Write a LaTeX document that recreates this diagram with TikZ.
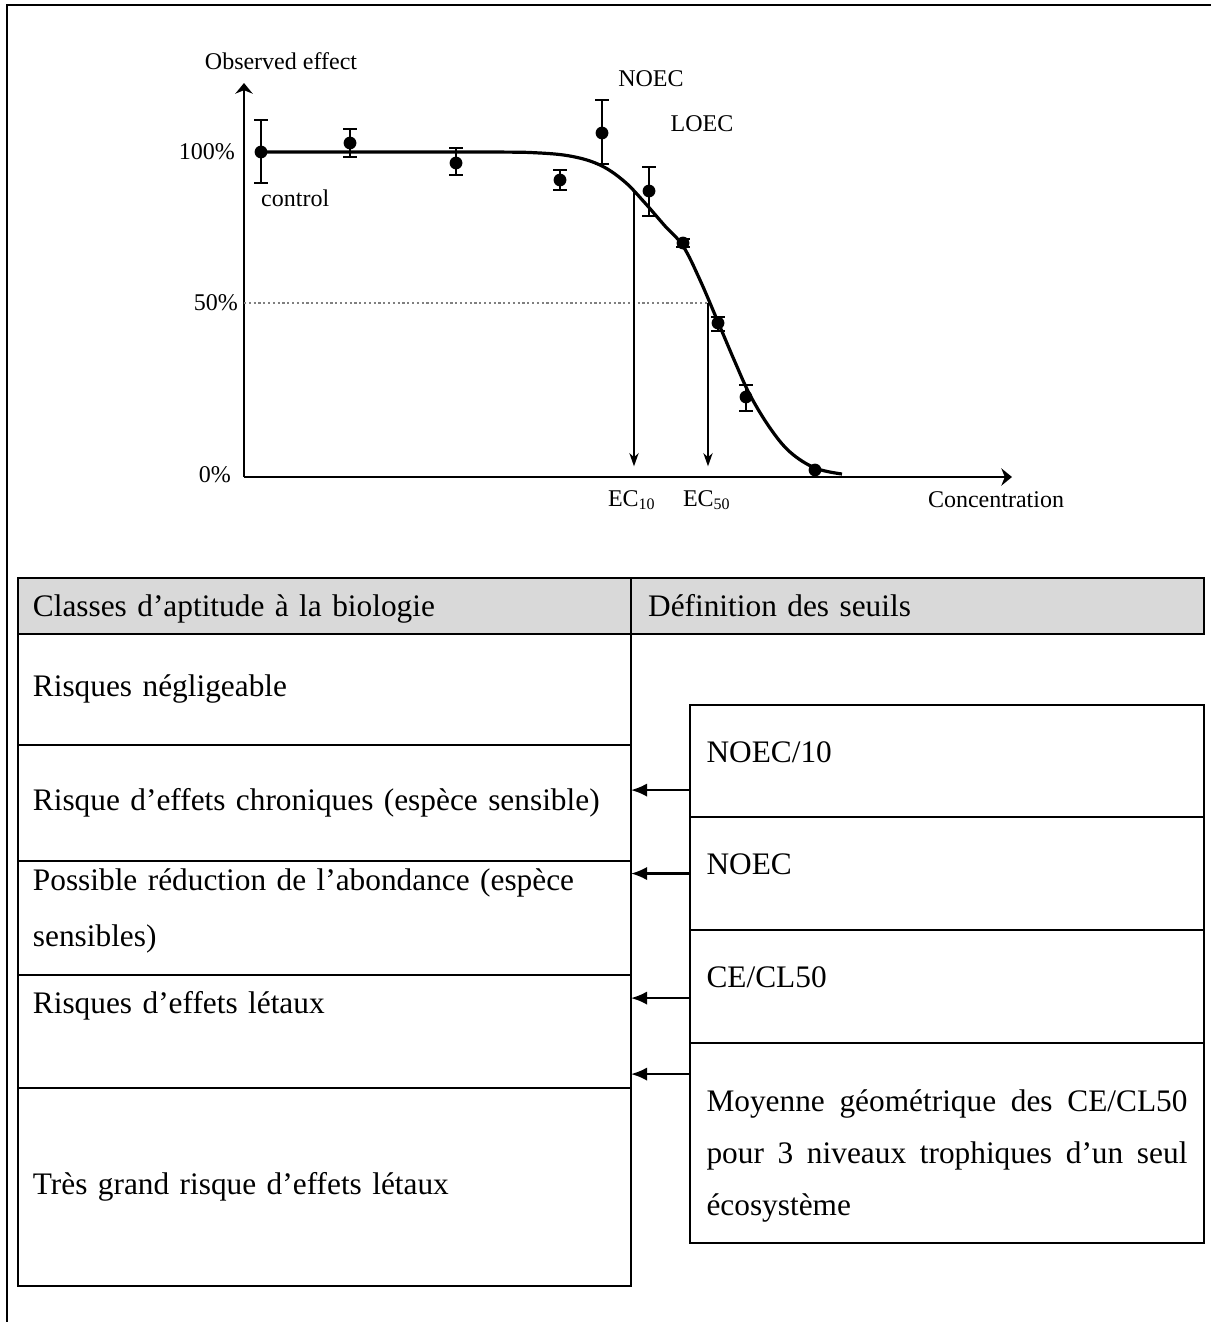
\documentclass[tikz,border=0pt]{standalone}
\usepackage{fontspec}
\setmainfont{Liberation Serif}
\usetikzlibrary{arrows.meta,positioning}

\begin{document}
\begin{tikzpicture}[x=0.375pt, y=-0.375pt,
    lab/.style = {font=\fontsize{9}{11}\selectfont, inner sep=1pt},
    axis/.style = {line width=0.8pt, -{Stealth[length=4pt,width=6.5pt]}},
    ecarrow/.style = {line width=0.6pt, -{Stealth[length=5pt,width=3.5pt]}, shorten >=4pt},
    errbar/.style = {line width=0.6pt, {Bar[width=5pt]}-{Bar[width=5pt]}},
    cell/.style = {draw, line width=0.9pt, inner sep=0pt, inner xsep=5.6pt, outer sep=0pt,
                   text width=218.7pt, minimum width=229.9pt, align=left,
                   font=\fontsize{11.75}{21}\selectfont},
    head/.style = {cell, fill=gray!30, minimum height=21pt, text height=10.5pt, text depth=3pt},
    seuil/.style = {cell, inner xsep=6.2pt, text width=180.35pt, minimum width=192.75pt},
    tabarrow/.style = {line width=0.8pt, -{Latex[length=6pt,width=5pt]}}]

\useasboundingbox (0,0) rectangle (1211,1322);
\draw[line width=0.8pt] (7,1322) -- (7,5) -- (1211,5);

% the dose-response curve
\coordinate (O) at (244,477);
\coordinate (ytop) at (244,83);
\coordinate (xend) at (1012,477);
\draw[axis] (O) -- (ytop);
\draw[axis] (O) -- (xend);
\node[lab] (obs) at (281,61) {Observed effect};
\node[lab] (conc) at (996,500) {Concentration};
\node[lab, anchor=east] (p100) at (238,152) {100\%};
\node[lab, anchor=east] (p50) at (241,303) {50\%};
\node[lab, anchor=east] (p0) at (234,475) {0\%};
\node[lab, anchor=west] (ctrl) at (258,198) {control};
\node[lab] (noeclab) at (651,79) {NOEC};
\node[lab] (loeclab) at (702,124) {LOEC};

\coordinate (c10) at (634,192);
\coordinate (c50) at (708,303);
\draw[gray, densely dotted, line width=0.8pt] (O |- c50) -- (c50);
\draw[line width=1.2pt] plot[smooth, tension=0.6] coordinates {(255,152) (480,152) (540,153)
  (575,157) (602,166) (625,182) (645,203) (665,226) (683,246) (700,280) (718,322)
  (735,362) (750,395) (770,428) (790,452) (815,468) (842,474)};

\draw[errbar] (261,119) -- (261,184); \fill (261,152) circle[radius=2.4pt];
\draw[errbar] (350,128) -- (350,158); \fill (350,143) circle[radius=2.4pt];
\draw[errbar] (456,147) -- (456,176); \fill (456,163) circle[radius=2.4pt];
\draw[errbar] (560,169) -- (560,191); \fill (560,180) circle[radius=2.4pt];
\draw[errbar] (602,99) -- (602,165);  \fill (602,133) circle[radius=2.4pt];
\draw[errbar] (649,166) -- (649,217); \fill (649,191) circle[radius=2.4pt];
\draw[errbar] (683,238) -- (683,248); \fill (683,243) circle[radius=2.4pt];
\draw[errbar] (718,316) -- (718,332); \fill (718,323) circle[radius=2.4pt];
\draw[errbar] (746,384) -- (746,412); \fill (746,397) circle[radius=2.4pt];
\fill (815,470) circle[radius=2.4pt];

\node[lab] (ec10) at (632,500) {EC\textsubscript{10}};
\node[lab] (ec50) at (707,500) {EC\textsubscript{50}};
\draw[ecarrow] (c10) -- (c10 |- O);
\draw[ecarrow] (c50) -- (c50 |- O);

% table
\node[head, anchor=north west] (h1) at (18,578) {Classes d’aptitude à la biologie};
\node[head, right=0pt of h1, minimum width=214.9pt, text width=202.1pt, inner xsep=6.4pt] (h2) {Définition des seuils};

\node[cell, below=0pt of h1, minimum height=41.6pt] (negl) {Risques négligeable};
\node[cell, below=0pt of negl, minimum height=43.5pt] (chron) {Risque d’effets chroniques (espèce sensible)};
\node[cell, below=0pt of chron, minimum height=42.75pt] (abond) {Possible réduction de l’abondance (espèce sensibles)\rule[-7.5pt]{0pt}{0pt}};
\node[cell, below=0pt of abond, minimum height=42.4pt] (letal) {Risques d’effets létaux\rule[-21.8pt]{0pt}{0pt}};
\node[cell, below=0pt of letal, minimum height=74.25pt] (grand) {Très grand risque d’effets létaux};

\node[seuil, anchor=north west, minimum height=42pt] (noecten) at (690,705) {NOEC/10\rule[-7pt]{0pt}{0pt}};
\node[seuil, below=0pt of noecten, minimum height=42.4pt] (noec) {NOEC\rule[-7pt]{0pt}{0pt}};
\node[seuil, below=0pt of noec, minimum height=42.4pt] (cecl) {CE/CL50\rule[-7pt]{0pt}{0pt}};
\node[seuil, below=0pt of cecl, minimum height=75pt, align=justify, font=\fontsize{11.75}{19.5}\selectfont] (moy)
  {\rule{0pt}{18pt}Moyenne géométrique des CE/CL50\linebreak pour 3 niveaux trophiques d’un seul\linebreak écosystème};

\coordinate (a1) at ([yshift=-10.9pt]noecten.west);
\coordinate (a3) at ([yshift=-4.3pt]cecl.west);
\coordinate (a4) at ([yshift=-11.6pt]moy.north west);
\draw[tabarrow] (a1) -- (a1 -| chron.east);
\draw[tabarrow] (noec.west) -- (noec.west -| abond.east);
\draw[tabarrow] (a3) -- (a3 -| letal.east);
\draw[tabarrow] (a4) -- (a4 -| letal.east);
\end{tikzpicture}
\end{document}
